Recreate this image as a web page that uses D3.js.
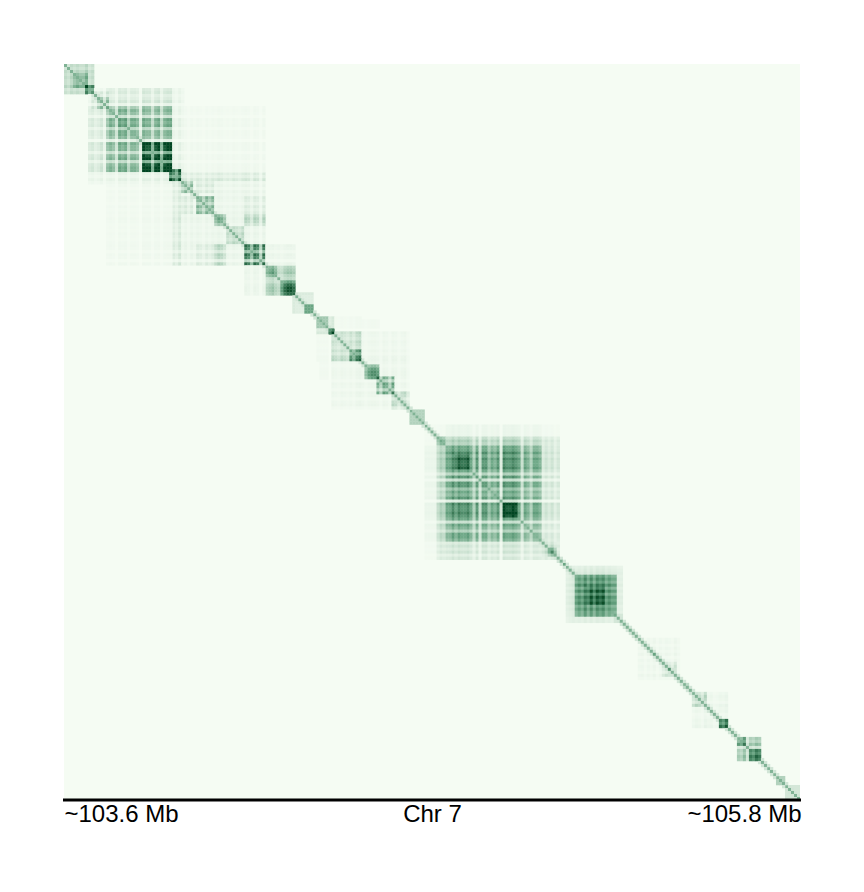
<!DOCTYPE html>
<html><head><meta charset="utf-8">
<script src="https://cdnjs.cloudflare.com/ajax/libs/d3/7.8.5/d3.min.js"></script>
<style>html,body{margin:0;background:#fff}svg{display:block}text{font-family:"Liberation Sans",Arial,sans-serif}</style>
</head><body><svg id="c" width="864" height="892"></svg>
<script>
const binCount = 245;
const tickLabels = ["~103.6 Mb", "Chr 7", "~105.8 Mb"];
// square contact domains: first bin, last bin, strength
const squareStart = [0,3,7, 9,11, 8,14,15,26,35, 36,39,44,50,54,60, 67,67,72, 76,80, 84,84,88, 89,89,95,100,104,109,115, 120,124,124,127,130,145,159,161,166, 167,170,174,183, 191,196,199,201,206, 209,209,218, 224,224,228,234,236,237,240,242];
const squareEnd   = [9,7,9,14,14,39,35,25,35,38, 66,42,49,53,59,66, 76,70,76, 82,82, 89,87,89, 114,98,98,104,109,114,119, 164,164,126,158,134,150,163,163,166, 185,183,179,185, 204,196,203,201,207, 220,213,220, 231,226,231,234,236,239,244,242];
const squareValue = [.16,.14,.34,.07,.2,.03,.2,.06,.22,.36, .03,.26,.28,.24,.13,.38, .12,.18,.36, .08,.42, .08,.22,.5, .02,.1,.22,.3,.26,.09,.24, .012,.07,.25,.2,.09,.16,.06,.32,.5, .07,.32,.1,.08, .02,.24,.07,.5,.2, .025,.12,.44, .07,.22,.26,.32,.36,.24,.12,.25];
// off-diagonal rectangles: bin range along each axis, strength
const crossA0 = [8,14,39,50,44,36,60,67,124,120, 84,85, 224];
const crossA1 = [13,35,42,53,49,38,66,70,126,123, 87,87, 226];
const crossB0 = [14,40,44,60,60,39,67,72,127,127, 89,99, 228];
const crossB1 = [35,66,49,66,66,66,76,76,158,158, 98,104, 231];
const crossValue = [.05,.012,.05,.1,.03,.03,.022,.05,.07,.014, .012,.012, .08];
// per-bin stripe strength, 5 is neutral
const stripeStart = [0,8,36,67,89,124,159,167,191,209,224];
const stripeDigits = ["5465655787","453462"+"5652767366518773783788","6484636465"+"3646576454"+"65467637627","56756467765","6546546478"+"6467763763"+"763673","465"+"6686877863"+"7277465718"+"7787626536"+"65","464635","456"+"56575757675"+"6554454","56364736465374","465375634657","658676876"];
// diagonal strength and its neighbours
const diagonalNear = [.42,.13];

const margin = {left:64, top:64, size:736};
const bins = d3.range(binCount);
const x = d3.scaleBand().domain(bins).range([margin.left, margin.left+margin.size]);
const y = d3.scaleBand().domain(bins).range([margin.top, margin.top+margin.size]);
const color = d3.scaleLinear().domain([0,.5,1]).range(["#f5fcf3","#6aa583","#004420"]).clamp(true);

const stripe = new Array(binCount).fill(1);
stripeStart.forEach((s,k)=>[...stripeDigits[k]].forEach((d,m)=>{stripe[s+m]=+d/5;}));
const cells = new Map();
const add=(i,j,v)=>{const key=i*binCount+j;cells.set(key,(cells.get(key)||0)+v);};
squareValue.forEach((v,k)=>{
  for(let i=squareStart[k];i<=squareEnd[k];i++)for(let j=squareStart[k];j<=squareEnd[k];j++)add(i,j,v*stripe[i]*stripe[j]);
});
crossValue.forEach((v,k)=>{
  for(let i=crossA0[k];i<=crossA1[k];i++)for(let j=crossB0[k];j<=crossB1[k];j++){
    add(i,j,v*stripe[i]*stripe[j]);add(j,i,v*stripe[i]*stripe[j]);
  }
});
const atLeast=(i,j,v)=>{const key=i*binCount+j;cells.set(key,Math.max(cells.get(key)||0,v));};
bins.forEach(i=>{
  atLeast(i,i,diagonalNear[0]);
  if(i+1<binCount){atLeast(i,i+1,diagonalNear[1]);atLeast(i+1,i,diagonalNear[1]);}
});
const data=[...cells].map(([key,v])=>({i:Math.floor(key/binCount),j:key%binCount,v}));

const svg=d3.select("#c");
const defs=svg.append("defs");
defs.append("filter").attr("id","soft").attr("x",0).attr("y",0).attr("width",1).attr("height",1)
  .append("feGaussianBlur").attr("stdDeviation",.5);
defs.append("clipPath").attr("id","plot").append("rect")
  .attr("x",margin.left).attr("y",margin.top).attr("width",margin.size).attr("height",margin.size);
const g=svg.append("g").attr("clip-path","url(#plot)").append("g").attr("filter","url(#soft)");
g.append("rect").attr("x",margin.left).attr("y",margin.top).attr("width",margin.size).attr("height",margin.size).attr("fill",color(0));
g.selectAll("rect.cell").data(data).join("rect").attr("class","cell")
  .attr("x",d=>x(d.j)).attr("y",d=>y(d.i)).attr("width",x.bandwidth()+.3).attr("height",y.bandwidth()+.3)
  .attr("fill",d=>color(d.v));

const labelScale=d3.scalePoint().domain(tickLabels).range([margin.left,margin.left+margin.size]);
const axis=svg.append("g").attr("transform",`translate(0,${margin.top+margin.size})`)
  .call(d3.axisBottom(labelScale).tickSize(0).tickPadding(5));
axis.select(".domain").attr("stroke","#000").attr("stroke-width",3).attr("d",`M${margin.left-1},0H${margin.left+margin.size+1}`);
axis.selectAll("text").attr("fill","#000").style("font-size","24px").style("font-family",'"Liberation Sans",Arial,sans-serif')
  .attr("text-anchor",(d,i)=>["start","middle","end"][i])
  .attr("dx",(d,i)=>[0,0,1][i]);
</script></body></html>
